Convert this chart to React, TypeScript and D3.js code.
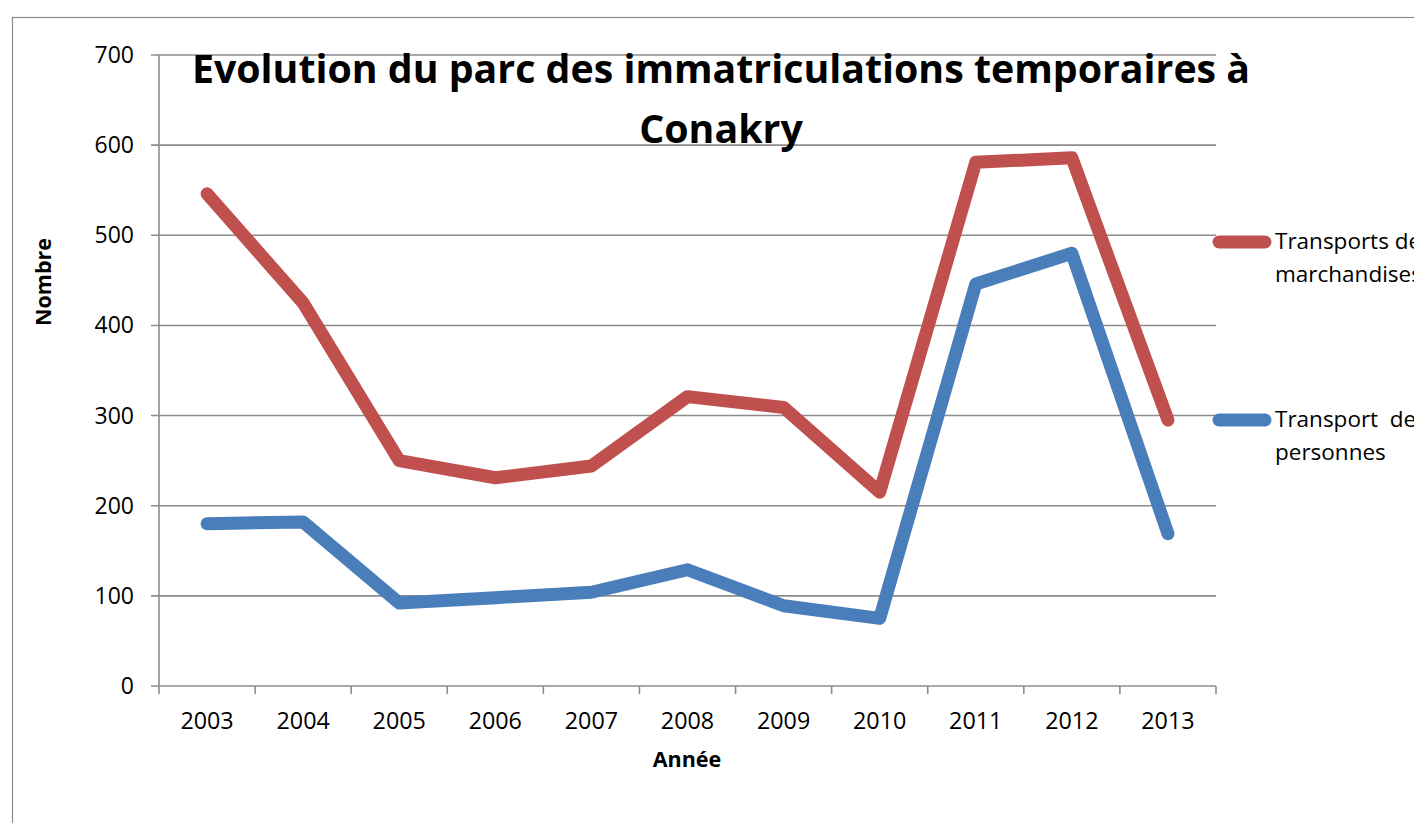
import React from "react";
import * as d3 from "d3";

const years = ["2003", "2004", "2005", "2006", "2007", "2008", "2009", "2010", "2011", "2012", "2013"];
const marchandises = [546, 425, 250, 231, 244, 321, 309, 215, 581, 586, 295];
const personnes = [180, 182, 92, 98, 104, 129, 89, 75, 446, 480, 169];
const yTicks = [0, 100, 200, 300, 400, 500, 600, 700];
const titleLines = ["Evolution du parc des immatriculations temporaires à", "Conakry"];
const seriesNames = [["Transports de", "marchandises"], ["Transport  de", "personnes"]];

const W = 1414;
const H = 823;
const left = 159, right = 1216, top = 55, bottom = 686;
const RED = "#C0504D";
const BLUE = "#4A7EBB";
const GRID = "#8C8C8C";
const FONT = "'Open Sans', Lato, sans-serif";

export default function App() {
  const x = d3.scaleBand<string>().domain(years).range([left, right]);
  const y = d3.scaleLinear().domain([0, 700]).range([bottom, top]);
  const line = d3
    .line<number>()
    .x((_, i) => (x(years[i]) as number) + x.bandwidth() / 2)
    .y((d) => y(d));

  const boundaries = years.map((yr) => x(yr) as number).concat([right]);

  return (
    <svg
      width={W}
      height={H}
      style={{ position: "absolute", left: 0, top: 0, background: "#fff" }}
      fontFamily={FONT}
    >
      <rect x={12.5} y={17.5} width={1500} height={900} fill="#fff" stroke="#8a8a8a" strokeWidth={1.2} />
      {/* gridlines */}
      {yTicks.map((t) => (
        <line key={t} x1={left - 8} x2={right} y1={y(t)} y2={y(t)} stroke={GRID} strokeWidth={1.6} />
      ))}
      {/* y axis */}
      <line x1={left} x2={left} y1={top} y2={bottom} stroke={GRID} strokeWidth={1.6} />
      {/* x ticks */}
      {boundaries.map((b, i) => (
        <line key={i} x1={b} x2={b} y1={bottom} y2={bottom + 8} stroke={GRID} strokeWidth={1.6} />
      ))}
      {/* y tick labels */}
      {yTicks.map((t) => (
        <text key={t} x={134} y={y(t) + 8} textAnchor="end" fontSize={23} fill="#000">
          {t}
        </text>
      ))}
      {/* x tick labels */}
      {years.map((yr) => (
        <text
          key={yr}
          x={(x(yr) as number) + x.bandwidth() / 2}
          y={729}
          textAnchor="middle"
          fontSize={23.3}
          fill="#000"
        >
          {yr}
        </text>
      ))}
      {/* series */}
      <path d={line(marchandises) || ""} fill="none" stroke={RED} strokeWidth={13} strokeLinecap="round" strokeLinejoin="round" />
      <path d={line(personnes) || ""} fill="none" stroke={BLUE} strokeWidth={13} strokeLinecap="round" strokeLinejoin="round" />
      {/* title */}
      {titleLines.map((t, i) => (
        <text key={i} x={721} y={83 + i * 60} textAnchor="middle" fontSize={39.3} fontWeight="bold" fill="#000">
          {t}
        </text>
      ))}
      {/* axis titles */}
      <text transform="translate(51,282) rotate(-90)" textAnchor="middle" fontSize={21.5} fontWeight="bold" fill="#000">
        Nombre
      </text>
      <text x={687} y={767} textAnchor="middle" fontSize={21.5} fontWeight="bold" fill="#000">
        Année
      </text>
      {/* legend */}
      {[RED, BLUE].map((c, i) => {
        const ly = i === 0 ? 242 : 420;
        return (
          <g key={i}>
            <line x1={1219} x2={1265} y1={ly} y2={ly} stroke={c} strokeWidth={13} strokeLinecap="round" />
            {seriesNames[i].map((s, j) => (
              <text key={j} x={1275} y={ly + 7 + j * 33} fontSize={22.5} fill="#000" style={{ whiteSpace: "pre" }}>
                {s}
              </text>
            ))}
          </g>
        );
      })}
    </svg>
  );
}
